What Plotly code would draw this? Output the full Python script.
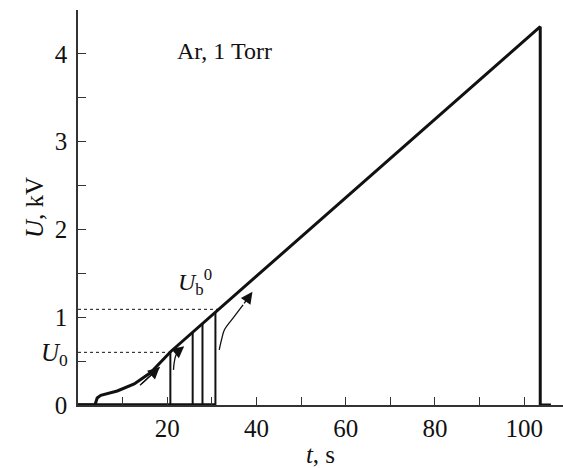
import plotly.graph_objects as go

# --- data ---
t_main = [0, 3.8, 4.3, 5.1, 8.8, 12.6, 16.3, 20.1, 20.8, 103.6, 103.6, 106.0]
u_main = [0, 0, 0.08, 0.11, 0.16, 0.24, 0.37, 0.57, 0.61, 4.31, 0, 0]

t_breakdown = [20.7, 25.7, 27.9, 30.8]
u_breakdown = [0.61, 0.83, 0.93, 1.06]

U0 = 0.6
U0_t_end = 20.8
Ub0 = 1.09
Ub0_t_end = 31.5

x_ticks = [20, 40, 60, 80, 100]
y_ticks = [0, 1, 2, 3, 4]

arrow1 = ([13.9, 18.3], [0.225, 0.43])
arrow2 = ([21.4, 21.55, 21.9, 22.6, 23.8], [0.40, 0.48, 0.56, 0.62, 0.67])
arrow3 = ([31.65, 32.2, 32.8, 35.0, 37.0, 39.1], [0.627, 0.75, 0.855, 1.006, 1.14, 1.29])

FONT = "Liberation Serif"
BLACK = "#111"

fig = go.Figure()

# dotted reference lines
fig.add_trace(go.Scatter(x=[0, U0_t_end], y=[U0, U0], mode="lines",
                         line=dict(color=BLACK, width=1, dash="dot"), showlegend=False))
fig.add_trace(go.Scatter(x=[0, Ub0_t_end], y=[Ub0, Ub0], mode="lines",
                         line=dict(color=BLACK, width=1, dash="dot"), showlegend=False))

# thick baseline after breakdowns
fig.add_trace(go.Scatter(x=[0, t_breakdown[-1]], y=[0, 0], mode="lines",
                         line=dict(color=BLACK, width=3.5), showlegend=False))

# breakdown vertical lines
for tb, ub in zip(t_breakdown, u_breakdown):
    fig.add_trace(go.Scatter(x=[tb, tb], y=[0, ub], mode="lines",
                             line=dict(color=BLACK, width=2), showlegend=False))

# main trace
fig.add_trace(go.Scatter(x=t_main, y=u_main, mode="lines",
                         line=dict(color=BLACK, width=3), showlegend=False))

# curved arrow bodies
for ax_, ay_ in (arrow1, arrow2, arrow3):
    fig.add_trace(go.Scatter(x=ax_[:-1] if len(ax_) > 2 else ax_, y=ay_[:-1] if len(ay_) > 2 else ay_,
                             mode="lines", line=dict(color=BLACK, width=1.3, shape="spline"),
                             showlegend=False))

annotations = []
for ax_, ay_ in (arrow1, arrow2, arrow3):
    annotations.append(dict(x=ax_[-1], y=ay_[-1], ax=ax_[-2], ay=ay_[-2],
                            xref="x", yref="y", axref="x", ayref="y",
                            text="", showarrow=True, arrowhead=2, arrowsize=1.8,
                            arrowwidth=1.3, arrowcolor=BLACK, standoff=0, startstandoff=0))

annotations += [
    dict(x=(175 - 78) / 4.4625, y=4.03, xref="x", yref="y", xanchor="left", yanchor="middle",
         text="Ar, 1 Torr", showarrow=False, font=dict(family=FONT, size=24, color=BLACK)),
    dict(x=(195 - 78) / 4.4625, y=1.40, xref="x", yref="y", xanchor="center", yanchor="middle",
         text="<i>U</i><sub>b</sub><sup>0</sup>", showarrow=False,
         font=dict(family=FONT, size=24, color=BLACK)),
    dict(x=(70 - 78) / 485, y=U0 - 0.03, xref="paper", yref="y", xanchor="right", yanchor="middle",
         text="<i>U</i><sub>0</sub>", showarrow=False, font=dict(family=FONT, size=25, color=BLACK)),
]

fig.update_layout(
    width=563, height=468,
    margin=dict(l=78, r=0, t=10, b=63),
    paper_bgcolor="white", plot_bgcolor="white",
    font=dict(family=FONT, size=25, color=BLACK),
    annotations=annotations,
    xaxis=dict(range=[0, 108.7], tickvals=x_ticks, ticks="inside", ticklen=8,
               tickwidth=1, tickcolor="#333", showline=True, linecolor="#333", linewidth=1.5,
               showgrid=False, zeroline=False, ticklabelstandoff=0,
               minor=dict(tickvals=[10, 30, 50, 70, 90], ticks="inside", ticklen=8,
                          tickwidth=1, tickcolor="#333", showgrid=False),
               title=dict(text="<i>t</i>, s", font=dict(family=FONT, size=25), standoff=0)),
    yaxis=dict(range=[0, 4.5], tickvals=y_ticks, ticks="inside", ticklen=8,
               tickwidth=1, tickcolor="#333", showline=True, linecolor="#333", linewidth=1.5,
               showgrid=False, zeroline=False, ticklabelstandoff=4,
               minor=dict(tickvals=[0.5, 1.5, 2.5, 3.5], ticks="inside", ticklen=8,
                          tickwidth=1, tickcolor="#333", showgrid=False),
               title=dict(text="<i>U</i>, kV", font=dict(family=FONT, size=25), standoff=4)),
)

fig.write_html("out.html")
